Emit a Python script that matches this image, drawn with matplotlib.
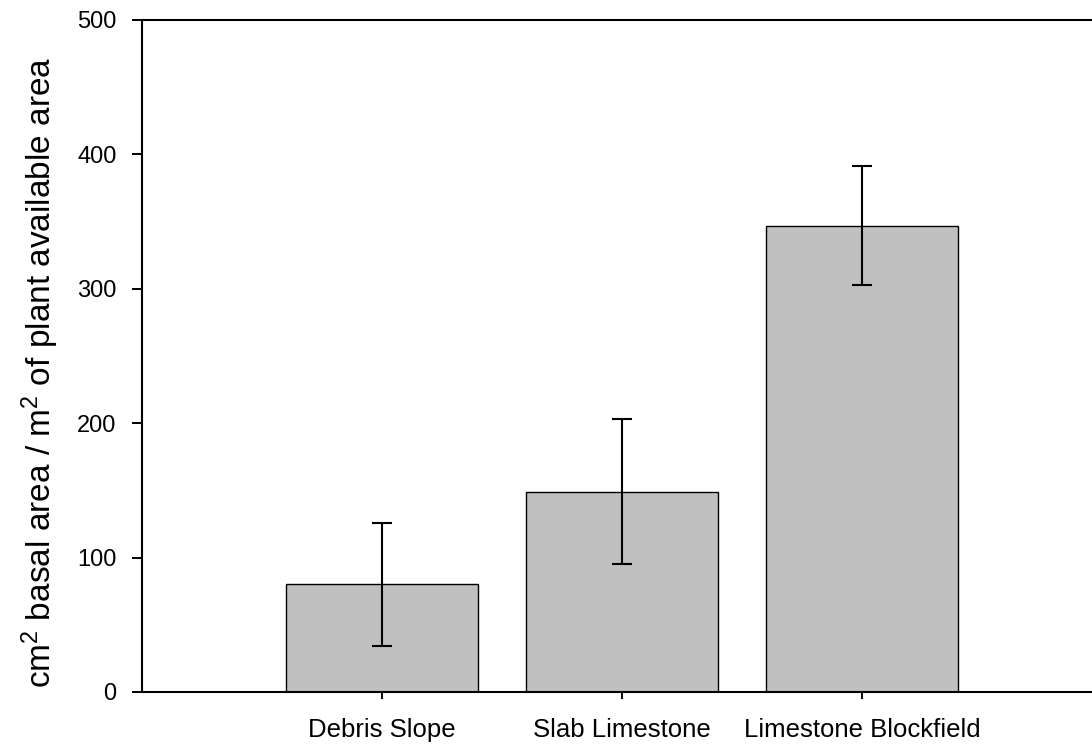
import numpy as np
import matplotlib
matplotlib.use('Agg')
import matplotlib.pyplot as plt

plt.rcParams['font.family'] = ['Liberation Sans', 'DejaVu Sans']
plt.rcParams['mathtext.fontset'] = 'custom'
plt.rcParams['mathtext.rm'] = 'Liberation Sans'
plt.rcParams['mathtext.it'] = 'Liberation Sans:italic'

# 서식지별 평균 기저면적과 표준오차
habitats = ['Debris Slope', 'Slab Limestone', 'Limestone Blockfield']
basal_area = [80, 149, 347]
basal_err = [46, 54, 44.5]

fig = plt.figure(figsize=(10.92, 7.49), dpi=100)
ax = fig.add_axes([142/1092, 57/749, 950/1092, 672/749])

x = np.arange(1, len(habitats) + 1)
ax.bar(x, basal_area, width=0.8, color='#c0c0c0', edgecolor='black', linewidth=1.0, zorder=2)
ax.errorbar(x, basal_area, yerr=basal_err, fmt='none', ecolor='black',
            elinewidth=1.5, capsize=7.2, capthick=1.5, zorder=3)

ax.set_xlim(0, 950/240)
ax.set_ylim(0, 500)
ax.set_yticks([0, 100, 200, 300, 400, 500])
ax.set_xticks(x)
ax.set_xticklabels(habitats, fontsize=18.5)
ax.tick_params(axis='y', labelsize=17, direction='out', length=7.2, width=1.4, pad=11)
ax.tick_params(axis='x', direction='out', length=5, width=1.4, pad=14)

ax.spines['right'].set_visible(False)
for s in ['left', 'bottom', 'top']:
    ax.spines[s].set_linewidth(1.5)

ax.set_ylabel('cm$^2$ basal area / m$^2$ of plant available area', fontsize=24)
ax.yaxis.set_label_coords(-0.0853, 0.476)

plt.savefig('out.png', dpi=100)
